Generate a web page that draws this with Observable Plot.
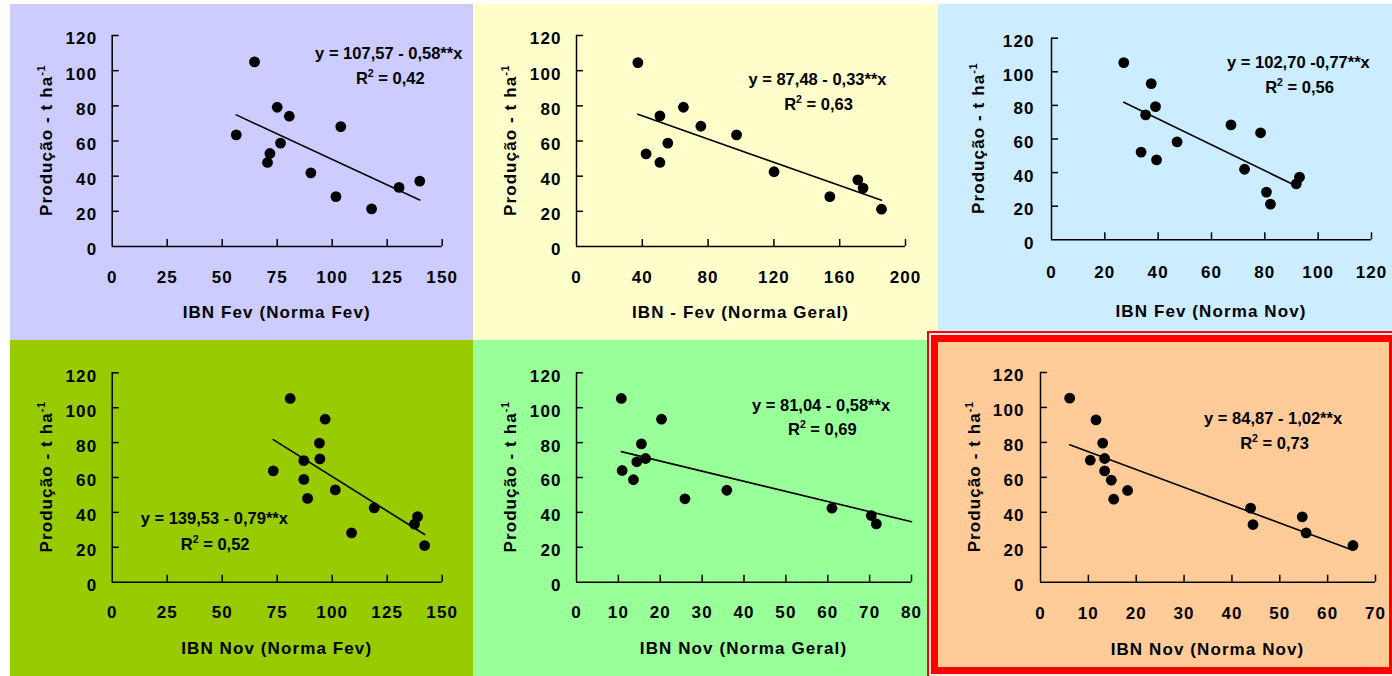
<!DOCTYPE html>
<html><head><meta charset="utf-8">
<script src="https://cdn.jsdelivr.net/npm/d3@7"></script>
<script src="https://cdn.jsdelivr.net/npm/@observablehq/plot@0.6"></script>
<style>
html,body{margin:0;padding:0;background:#fff;}
body{width:1392px;height:676px;overflow:hidden;position:relative;font-family:"Liberation Sans",Arial,sans-serif;}
.panel{position:absolute;}
#frameOuter{position:absolute;left:927px;top:331px;width:470px;height:350px;box-sizing:border-box;border:2px solid #ff0000;background:#ffe6e6;}
#frameInner{position:absolute;left:931px;top:335px;width:465px;height:339px;box-sizing:border-box;border:7px solid #ff0000;background:#FFCC99;}
</style></head><body>
<div id="root"></div>
<script>
// ---------- data ----------
const yTicks = [0, 20, 40, 60, 80, 100, 120];
const yTitle = "Produção - t ha";
const yTitleSup = "-1";

// Panel 1: IBN Fev (Norma Fev)
const p1X = [64.7, 56.4, 75.0, 80.5, 103.9, 76.5, 71.7, 70.6, 90.3, 101.7, 117.9, 130.4, 139.8];
const p1Y = [105.0, 63.5, 79.2, 74.1, 68.2, 58.8, 52.9, 47.8, 41.9, 28.4, 21.4, 33.6, 37.2];
const p1XTicks = [0, 25, 50, 75, 100, 125, 150];

// Panel 2: IBN - Fev (Norma Geral)
const p2X = [37.3, 50.7, 65.0, 75.6, 97.3, 42.3, 50.7, 55.5, 120.1, 154.0, 171.0, 174.2, 185.4];
const p2Y = [104.6, 74.3, 79.2, 68.4, 63.5, 52.7, 47.8, 58.8, 42.5, 28.4, 37.9, 33.2, 21.2];
const p2XTicks = [0, 40, 80, 120, 160, 200];

// Panel 3: IBN Fev (Norma Nov)
const p3X = [27.1, 37.4, 39.0, 35.3, 67.3, 78.4, 47.1, 33.6, 39.4, 72.4, 93.0, 91.8, 80.6, 82.1];
const p3Y = [105.5, 93.0, 79.3, 74.4, 68.4, 63.7, 58.3, 52.2, 47.6, 42.0, 37.3, 33.3, 28.4, 21.2];
const p3XTicks = [0, 20, 40, 60, 80, 100, 120];

// Panel 4: IBN Nov (Norma Fev)
const p4X = [80.9, 96.8, 94.2, 94.4, 87.1, 73.2, 87.1, 88.8, 101.4, 119.1, 108.8, 138.8, 137.4, 142.0];
const p4Y = [105.3, 93.4, 79.7, 70.7, 69.7, 63.8, 58.9, 48.0, 52.9, 42.6, 28.3, 37.6, 33.3, 21.0];
const p4XTicks = [0, 25, 50, 75, 100, 125, 150];

// Panel 5: IBN Nov (Norma Geral)
const p5X = [10.7, 20.3, 15.5, 16.5, 14.4, 10.9, 13.6, 25.9, 35.9, 61.0, 70.4, 71.6];
const p5Y = [105.3, 93.4, 79.3, 70.9, 69.0, 64.0, 58.7, 47.8, 52.7, 42.4, 38.2, 33.4];
const p5XTicks = [0, 10, 20, 30, 40, 50, 60, 70, 80];

// Panel 6: IBN Nov (Norma Nov)
const p6X = [6.1, 11.6, 13.0, 13.4, 10.4, 13.4, 14.8, 15.3, 18.2, 43.9, 44.4, 54.7, 55.5, 65.3];
const p6Y = [105.3, 92.9, 79.6, 70.8, 69.8, 63.7, 58.4, 47.5, 52.5, 42.4, 33.0, 37.4, 28.2, 21.0];
const p6XTicks = [0, 10, 20, 30, 40, 50, 60, 70];

// regression coefficients (y = a - b x) and the x range each fitted line covers
const fitA = [107.57, 87.48, 102.70, 139.53, 81.04, 84.87];
const fitB = [0.58, 0.33, 0.77, 0.79, 0.58, 1.02];
const fitRange = [[56.4, 139.8], [37.3, 185.4], [27.1, 91.8], [73.2, 142.0], [10.7, 80], [6.1, 65.3]];
const eqLabels = ["y = 107,57 - 0,58**x", "y = 87,48 - 0,33**x", "y = 102,70 -0,77**x",
                  "y = 139,53 - 0,79**x", "y = 81,04 - 0,58**x", "y = 84,87 - 1,02**x"];
const r2Values = ["0,42", "0,63", "0,56", "0,52", "0,69", "0,73"];
const xTitles = ["IBN Fev (Norma Fev)", "IBN - Fev (Norma Geral)", "IBN Fev (Norma Nov)",
                 "IBN Nov (Norma Fev)", "IBN Nov (Norma Geral)", "IBN Nov (Norma Nov)"];
// where the equation and R² labels sit, in data units [x, y]
const eqAt = [[125.7, 109.6], [146.5, 95.0], [92.6, 105.4], [46.4, 36.1], [58.4, 101.3], [48.6, 93.8]];
const r2At = [[126.4, 95.7], [147.1, 80.8], [93.0, 90.4], [46.8, 21.6], [58.7, 87.1], [48.9, 79.2]];

// ---------- layout (positions / styles) ----------
const layout = [
  {left: 10,  top: 4,   w: 463, h: 336, mL: 101.7, mR: 31.3, mT: 31,   mB: 94,   bg: "#CCCCFF", xPad: 24, yPad: 15, yOff: 60, tOff: 72},
  {left: 473, top: 4,   w: 465, h: 336, mL: 103,   mR: 33,   mT: 31,   mB: 94,   bg: "#FFFFCC", xPad: 24, yPad: 15, yOff: 60, tOff: 72},
  {left: 938, top: 4,   w: 454, h: 327, mL: 113,   mR: 21,   mT: 33.7, mB: 91.7, bg: "#CCECFF", xPad: 26, yPad: 17, yOff: 67, tOff: 78},
  {left: 10,  top: 340, w: 463, h: 336, mL: 101.7, mR: 31.3, mT: 32.3, mB: 94.3, bg: "#99CC00", xPad: 24, yPad: 15, yOff: 60, tOff: 72.5},
  {left: 473, top: 340, w: 454, h: 336, mL: 103,   mR: 16,   mT: 32.3, mB: 94.3, bg: "#99FF99", xPad: 24, yPad: 15, yOff: 60, tOff: 72.5},
  {left: 927, top: 331, w: 465, h: 345, mL: 113,   mR: 17,   mT: 41,   mB: 94.3, bg: "transparent", xPad: 25, yPad: 16, yOff: 60, tOff: 73}
];

const panels = [
  [p1X, p1Y, p1XTicks], [p2X, p2Y, p2XTicks], [p3X, p3Y, p3XTicks],
  [p4X, p4Y, p4XTicks], [p5X, p5Y, p5XTicks], [p6X, p6Y, p6XTicks]
];

const root = document.getElementById("root");
function addFrame() {
  const o = document.createElement("div"); o.id = "frameOuter"; root.appendChild(o);
  const i = document.createElement("div"); i.id = "frameInner"; root.appendChild(i);
}

panels.forEach(([xs, ys, xTicks], k) => {
  const L = layout[k];
  if (k === 5) addFrame();
  const pts = xs.map((v, i) => ({x: v, y: ys[i]}));
  const fit = fitRange[k].map(v => ({x: v, y: fitA[k] - fitB[k] * v}));
  const xMax = xTicks[xTicks.length - 1];
  const W = L.w - L.mL - L.mR, H = L.h - L.mT - L.mB;
  const tickLenX = 7 * xMax / W;
  const tickLenY = 7 * 120 / H;
  const ink = {stroke: "#000", strokeWidth: 1.5};
  const svg = Plot.plot({
    width: L.w, height: L.h,
    marginLeft: L.mL, marginRight: L.mR, marginTop: L.mT, marginBottom: L.mB,
    style: `background:${L.bg};font-family:'Liberation Sans',Arial,sans-serif;font-size:17px;font-weight:bold;color:#000;letter-spacing:1.1px;overflow:visible;`,
    x: {domain: [0, xMax]},
    y: {domain: [0, 120]},
    marks: [
      Plot.axisX({ticks: xTicks, tickSize: 0, tickPadding: L.xPad, label: null, tickFormat: d => String(d)}),
      Plot.axisY({ticks: yTicks, tickSize: 0, tickPadding: L.yPad, label: null, dy: 3.5, tickFormat: d => String(d)}),
      Plot.ruleX(xTicks.slice(1), {x: d => d, y1: 0, y2: tickLenY, ...ink}),
      Plot.ruleY(yTicks.slice(1), {y: d => d, x1: 0, x2: tickLenX, ...ink}),
      Plot.ruleX([0], {y1: 0, y2: 120, ...ink}),
      Plot.ruleY([0], {x1: 0, x2: xMax, ...ink}),
      Plot.line(fit, {x: "x", y: "y", stroke: "#000", strokeWidth: 1.6}),
      Plot.dot(pts, {x: "x", y: "y", r: 5.4, fill: "#000", stroke: "none"}),
      Plot.text([eqLabels[k]], {x: () => eqAt[k][0], y: () => eqAt[k][1], text: d => d, fontSize: 16.5, fontWeight: "bold", fill: "#000"}),
      Plot.text([r2Values[k]], {x: () => r2At[k][0], y: () => r2At[k][1], text: d => "R2 = " + d, fontSize: 16.5, fontWeight: "bold", fill: "#000"})
    ]
  });
  const s = d3.select(svg);
  s.selectAll('g[aria-label="text"]').style("letter-spacing", "0px");
  // turn "R2" into R with a superscript 2
  s.selectAll('g[aria-label="text"] text').each(function () {
    const node = d3.select(this);
    const str = node.text();
    if (str.startsWith("R2")) {
      node.text(null);
      node.append("tspan").text("R");
      node.append("tspan").attr("dy", -7).style("font-size", "10.5px").text("2");
      node.append("tspan").attr("dy", 7).text(str.slice(2));
    }
  });
  s.append("text")
    .attr("x", L.mL + W / 2).attr("y", L.mT + H + L.tOff)
    .attr("text-anchor", "middle").attr("fill", "#000")
    .style("font-size", "17px").style("font-weight", "bold")
    .text(xTitles[k]);
  const t = s.append("text")
    .attr("transform", `translate(${L.mL - L.yOff},${L.mT + H / 2}) rotate(-90)`)
    .attr("text-anchor", "middle").attr("fill", "#000")
    .style("font-size", "17px").style("font-weight", "bold");
  t.append("tspan").text(yTitle);
  t.append("tspan").attr("dy", -7).style("font-size", "11px").style("letter-spacing", "0.5px").text(yTitleSup);
  const wrap = document.createElement("div");
  wrap.className = "panel";
  wrap.style.left = L.left + "px"; wrap.style.top = L.top + "px";
  wrap.appendChild(svg);
  root.appendChild(wrap);
});
</script>
</body></html>
